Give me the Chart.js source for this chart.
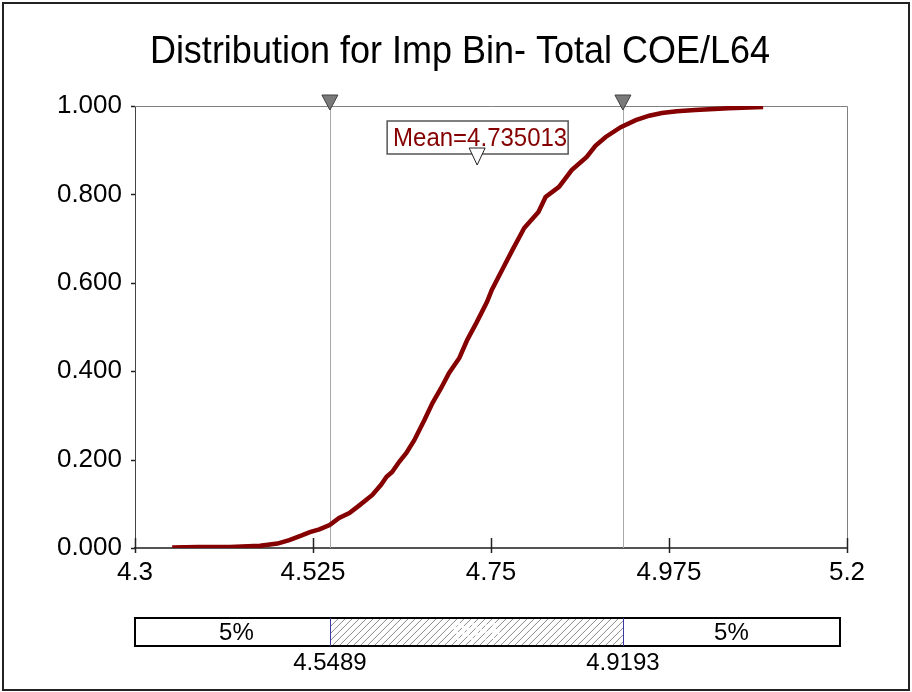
<!DOCTYPE html>
<html>
<head>
<meta charset="utf-8">
<script src="https://cdn.jsdelivr.net/npm/chart.js@4.4.1/dist/chart.umd.min.js"></script>
<style>
  html, body { margin: 0; padding: 0; background: #fff; }
  #wrap { width: 912px; height: 692px; position: relative; }
</style>
</head>
<body>
<div id="wrap"><canvas id="myChart"></canvas></div>
<script>
// values
const chartTitle = 'Distribution for Imp Bin- Total COE/L64';
const xVals = [4.347, 4.38, 4.42, 4.458, 4.48, 4.495, 4.51, 4.521, 4.533, 4.546, 4.558, 4.571, 4.584, 4.6, 4.611, 4.618,
  4.625, 4.634, 4.643, 4.653, 4.666, 4.676, 4.687, 4.697, 4.71, 4.72, 4.732, 4.745, 4.751, 4.764, 4.777, 4.792,
  4.801, 4.81, 4.819, 4.836, 4.852, 4.871, 4.882, 4.895, 4.914, 4.933, 4.95, 4.966, 4.985, 5.008, 5.05, 5.094];
const cdfVals = [0.001, 0.002, 0.002, 0.005, 0.01, 0.018, 0.028, 0.036, 0.042, 0.052, 0.068, 0.079, 0.097, 0.12, 0.143, 0.161,
  0.172, 0.195, 0.215, 0.244, 0.29, 0.328, 0.362, 0.396, 0.43, 0.471, 0.511, 0.557, 0.584, 0.629, 0.674, 0.724,
  0.742, 0.76, 0.794, 0.817, 0.855, 0.885, 0.91, 0.93, 0.952, 0.968, 0.978, 0.984, 0.988, 0.991, 0.995, 0.998];
const xTicks = [4.3, 4.525, 4.75, 4.975, 5.2];
const yTicks = [0, 0.2, 0.4, 0.6, 0.8, 1.0];
const meanVal = 4.735013;
const lowQ = 4.5489;
const highQ = 4.9193;
const bandLabels = ['5%', '90%', '5%'];

const FONT = '"Liberation Sans", Arial, sans-serif';
const RED = '#850000';

const points = xVals.map((x, i) => ({ x: x, y: cdfVals[i] }));

function triangle(ctx, cx, top, half, h, fill, stroke) {
  ctx.beginPath();
  ctx.moveTo(cx - half, top);
  ctx.lineTo(cx + half, top);
  ctx.lineTo(cx, top + h);
  ctx.closePath();
  ctx.fillStyle = fill;
  ctx.fill();
  ctx.lineWidth = 1;
  ctx.strokeStyle = stroke;
  ctx.stroke();
}

const extras = {
  id: 'extras',
  beforeDraw(chart) {
    const ctx = chart.ctx;
    ctx.save();
    ctx.fillStyle = '#fff';
    ctx.fillRect(0, 0, chart.width, chart.height);
    ctx.restore();
  },
  beforeDatasetsDraw(chart) {
    const ctx = chart.ctx;
    const a = chart.chartArea;
    const x = chart.scales.x;
    const y = chart.scales.y;
    ctx.save();
    // top and right frame of the plot
    ctx.strokeStyle = '#808080';
    ctx.lineWidth = 1;
    ctx.beginPath();
    ctx.moveTo(a.left, a.top + 0.5);
    ctx.lineTo(a.right + 0.5, a.top + 0.5);
    ctx.lineTo(a.right + 0.5, a.bottom);
    ctx.stroke();
    // quantile lines
    ctx.strokeStyle = '#a8a8a8';
    [lowQ, highQ].forEach(q => {
      const px = Math.round(x.getPixelForValue(q)) - 1.5;
      ctx.beginPath();
      ctx.moveTo(px, a.top);
      ctx.lineTo(px, a.bottom);
      ctx.stroke();
    });
    // tick marks
    ctx.strokeStyle = '#222';
    ctx.lineWidth = 1.5;
    xTicks.forEach(v => {
      const px = Math.round(x.getPixelForValue(v)) + 0.5;
      ctx.beginPath();
      ctx.moveTo(px, a.bottom - 10);
      ctx.lineTo(px, a.bottom + 5);
      ctx.stroke();
    });
    yTicks.forEach(v => {
      const py = Math.round(y.getPixelForValue(v)) + 0.5;
      ctx.beginPath();
      ctx.moveTo(a.left - 4, py);
      ctx.lineTo(a.left, py);
      ctx.stroke();
    });
    ctx.restore();
  },
  afterDraw(chart) {
    const ctx = chart.ctx;
    const a = chart.chartArea;
    const x = chart.scales.x;
    ctx.save();
    // outer frame
    ctx.strokeStyle = '#222';
    ctx.lineWidth = 2;
    ctx.strokeRect(3, 3, chart.width - 6, chart.height - 5);

    // title, a bit taller than wide like the original
    ctx.fillStyle = '#000';
    ctx.font = '36px ' + FONT;
    ctx.textAlign = 'center';
    ctx.textBaseline = 'middle';
    ctx.save();
    ctx.translate(460, 52);
    ctx.scale(1, 1.1);
    ctx.fillText(chartTitle, 0, 0);
    ctx.restore();

    // quantile markers at top
    const pLow = x.getPixelForValue(lowQ) - 2;
    const pHigh = x.getPixelForValue(highQ) - 2;
    triangle(ctx, pLow, 95, 8, 15, '#7a7a7a', '#404040');
    triangle(ctx, pHigh, 95, 8, 15, '#7a7a7a', '#404040');

    // mean label
    const pMean = x.getPixelForValue(meanVal) - 2;
    ctx.fillStyle = '#fff';
    ctx.fillRect(pMean - 90, 121, 181, 33);
    ctx.strokeStyle = '#555';
    ctx.lineWidth = 1.5;
    ctx.strokeRect(pMean - 90, 121, 181, 33);
    ctx.fillStyle = RED;
    ctx.font = '24px ' + FONT;
    ctx.save();
    ctx.translate(pMean + 3, 139);
    ctx.scale(1, 1.1);
    ctx.fillText('Mean=' + meanVal.toFixed(6), 0, 0);
    ctx.restore();
    triangle(ctx, pMean, 148, 8, 17, '#fff', '#222');

    // band box under the chart
    const bx0 = a.left, bx1 = a.right - 7, by0 = 618, by1 = 646;
    ctx.save();
    ctx.beginPath();
    ctx.rect(pLow, by0, pHigh - pLow, by1 - by0);
    ctx.clip();
    ctx.strokeStyle = '#8a8a8a';
    ctx.lineWidth = 1;
    for (let k = pLow - 40; k < pHigh + 40; k += 7) {
      ctx.beginPath();
      ctx.moveTo(k, by1);
      ctx.lineTo(k + (by1 - by0), by0);
      ctx.stroke();
    }
    ctx.restore();
    ctx.strokeStyle = '#000';
    ctx.lineWidth = 2;
    ctx.strokeRect(bx0, by0, bx1 - bx0, by1 - by0);
    ctx.strokeStyle = '#3a3aa0';
    ctx.lineWidth = 1;
    [pLow, pHigh].forEach(p => {
      ctx.beginPath();
      ctx.moveTo(Math.round(p) + 0.5, by0);
      ctx.lineTo(Math.round(p) + 0.5, by1);
      ctx.stroke();
    });
    ctx.font = '24px ' + FONT;
    ctx.fillStyle = '#000';
    ctx.fillText(bandLabels[0], (bx0 + pLow) / 2 + 4, 633);
    ctx.fillText(bandLabels[2], (pHigh + bx1) / 2, 633);
    ctx.fillStyle = '#fff';
    ctx.fillText(bandLabels[1], (pLow + pHigh) / 2, 633);
    ctx.fillStyle = '#000';
    ctx.fillText(lowQ.toFixed(4), pLow, 663);
    ctx.fillText(highQ.toFixed(4), pHigh, 663);
    ctx.restore();
  }
};

const ctx = document.getElementById('myChart').getContext('2d');
const myChart = new Chart(ctx, {
  type: 'scatter',
  data: {
    datasets: [{
      data: points,
      showLine: true,
      borderColor: RED,
      borderWidth: 4.5,
      pointRadius: 0,
      tension: 0
    }]
  },
  options: {
    responsive: true,
    maintainAspectRatio: false,
    animation: false,
    layout: { padding: { top: 106, right: 65, left: 0, bottom: 0 } },
    plugins: {
      legend: { display: false },
      tooltip: { enabled: false }
    },
    scales: {
      x: {
        type: 'linear',
        min: 4.3,
        max: 5.2,
        afterBuildTicks: s => { s.ticks = xTicks.map(v => ({ value: v })); },
        afterFit: s => { s.height = 144; },
        grid: { display: false, drawTicks: false },
        border: { display: true, color: '#555', width: 2 },
        ticks: {
          padding: 9,
          color: '#000',
          font: { family: FONT, size: 26 },
          maxRotation: 0,
          callback: v => String(Number(v.toFixed(3)))
        }
      },
      y: {
        min: 0,
        max: 1,
        afterBuildTicks: s => { s.ticks = yTicks.map(v => ({ value: v })); },
        afterFit: s => { s.width = 135; },
        grid: { display: false, drawTicks: false },
        border: { display: true, color: '#444', width: 1 },
        ticks: {
          padding: 13,
          color: '#000',
          font: { family: FONT, size: 26 },
          callback: v => v.toFixed(3)
        }
      }
    }
  },
  plugins: [extras]
});
</script>
</body>
</html>
